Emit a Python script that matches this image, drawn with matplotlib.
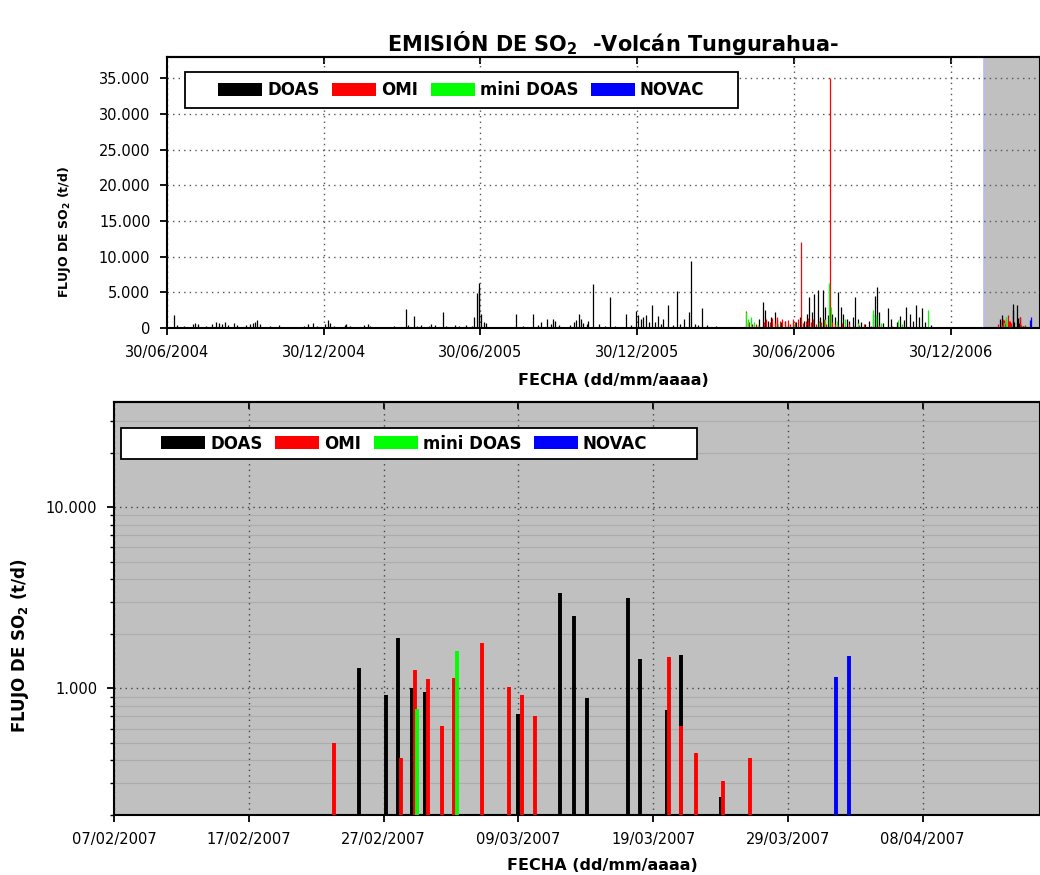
import matplotlib
matplotlib.use('Agg')
import matplotlib.pyplot as plt
import matplotlib.dates as mdates
from matplotlib.patches import Patch, Rectangle
from matplotlib.ticker import FixedLocator, FuncFormatter, LogLocator, NullFormatter
import numpy as np
from datetime import datetime

# ---------------- datos ----------------
series = ['DOAS', 'OMI', 'mini DOAS', 'NOVAC']
colores = ['#000000', '#ff0000', '#00ff00', '#0000ff']

inicio_hist = datetime(2004, 6, 30)   # origen de los dias del periodo 2004-2006
inicio_2007 = datetime(2007, 2, 7)    # origen de los dias de la campaña 2007

# DOAS 2004-2006 (dias desde 30/06/2004, flujo t/d)
doas_dias = [8, 12, 20, 30, 33, 36, 45, 52, 57, 60, 64, 68, 71, 78, 82, 92, 97, 100, 103, 105,
             108, 120, 130, 150, 160, 164, 170, 175, 184, 187, 190, 195, 207, 209, 213, 230, 234,
             237, 250, 265, 278, 281, 288, 291, 296, 305, 308, 312, 321, 325, 335, 340, 348, 355,
             358, 361, 363, 364, 366, 369, 372, 385, 395, 406, 415, 426, 432, 436, 443, 447, 450,
             452, 457, 470, 474, 477, 480, 482, 485, 489, 491, 496, 503, 510, 516, 522, 535, 541,
             546, 549, 552, 555, 558, 562, 565, 568, 572, 575, 578, 584, 590, 594, 598, 602, 608,
             610, 615, 619, 623, 629, 640, 650, 665, 677, 682, 690, 694, 697, 700, 704, 708, 711,
             715, 720, 724, 729, 733, 737, 742, 745, 748, 751, 754, 758, 761, 764, 767, 770, 775,
             778, 782, 785, 788, 792, 795, 799, 802, 805, 809, 813, 818, 822, 825, 827, 830, 834,
             840, 844, 850, 854, 858, 861, 865, 869, 873, 876, 879, 883, 890, 895]
doas_flujo = [1800, 400, 300, 600, 700, 500, 300, 500, 900, 700, 500, 850, 400, 700, 400, 400, 600,
              700, 800, 1100, 600, 300, 400, 200, 300, 500, 700, 300, 600, 1100, 700, 300, 400, 600,
              300, 400, 500, 300, 200, 300, 2700, 400, 1700, 300, 400, 300, 500, 400, 2300, 300,
              400, 300, 400, 300, 1500, 4900, 6300, 5500, 2000, 800, 700, 200, 200, 2000, 300, 2000,
              400, 900, 1200, 600, 1200, 1000, 400, 400, 800, 1100, 2000, 1200, 700, 600, 1000,
              6200, 500, 300, 4400, 300, 2000, 400, 2400, 1800, 1200, 1500, 1800, 900, 3200, 800,
              1700, 600, 1200, 3200, 400, 5200, 500, 1300, 2300, 9400, 500, 400, 2800, 400, 300,
              200, 200, 900, 500, 1200, 3700, 2500, 1000, 1500, 2300, 1200, 800, 1000, 600, 700,
              900, 1500, 1000, 2000, 4300, 2200, 4700, 5300, 1500, 5300, 3000, 1800, 2000, 1500,
              5100, 3000, 2000, 1300, 1000, 1500, 4400, 1200, 800, 600, 1000, 2000, 4500, 5800,
              2200, 700, 2800, 1200, 900, 1700, 1100, 2900, 2000, 1000, 3200, 1500, 2800, 800,
              400, 200]

# OMI 2006
omi_dias = [675, 678, 681, 686, 690, 695, 698, 702, 705, 708, 711, 714, 717, 720, 723, 726, 729,
            732, 735, 738, 741, 744, 747, 750, 753, 756, 759, 762, 765, 768, 772, 775, 778, 782,
            786, 790, 795, 800, 806, 812, 820, 830, 845, 860]
omi_flujo = [2400, 800, 400, 600, 300, 800, 1200, 900, 1400, 700, 1500, 1000, 1300, 800, 1100,
             600, 1200, 900, 1300, 12000, 700, 1000, 1400, 900, 1200, 600, 1000, 800, 1300, 500,
             35000, 900, 600, 400, 700, 300, 500, 300, 400, 600, 300, 400, 300, 200]

# mini DOAS 2006
mini_dias = [675, 677, 680, 684, 688, 712, 730, 748, 760, 766, 771, 774, 780, 790, 805, 822, 826,
             832, 852, 856, 886]
mini_flujo = [2200, 1200, 1500, 800, 400, 600, 500, 300, 800, 1200, 6300, 3000, 1000, 1200, 700,
              2500, 1800, 700, 1100, 600, 2500]

# campaña 2007 (dias desde 07/02/2007, flujo t/d)
doas07_dias = [18.2, 20.2, 21.1, 22.1, 23.1, 30.0, 33.1, 34.1, 35.1, 38.1, 39.0, 41.0, 42.1, 45.0]
doas07_flujo = [1290, 920, 1890, 1000, 960, 720, 3370, 2520, 880, 3160, 1460, 760, 1520, 250]
omi07_dias = [16.3, 21.3, 22.3, 23.3, 24.3, 25.2, 27.3, 29.3, 30.3, 31.2, 41.2, 42.1, 43.2, 45.2, 47.2]
omi07_flujo = [500, 410, 1260, 1120, 620, 1140, 1770, 1020, 920, 700, 1480, 620, 440, 310, 410]
mini07_dias = [22.5, 25.45]
mini07_flujo = [770, 1600]
novac07_dias = [53.6, 54.5]
novac07_flujo = [1160, 1500]

ticks_sup = ['2004-06-30', '2004-12-30', '2005-06-30', '2005-12-30', '2006-06-30', '2006-12-30']
ticks_inf = ['2007-02-07', '2007-02-17', '2007-02-27', '2007-03-09', '2007-03-19', '2007-03-29',
             '2007-04-08']

# ---------------- figura ----------------
fig = plt.figure(figsize=(10.4, 8.75), dpi=100)

t0 = mdates.date2num(inicio_hist)
t7 = mdates.date2num(inicio_2007)

miles = FuncFormatter(lambda v, p: f'{int(round(v)):,}'.replace(',', '.'))
fmt_fecha = mdates.DateFormatter('%d/%m/%Y')


def leyenda(ax, caja, ancla):
    x0, y0, x1, y1 = caja
    ax.add_patch(Rectangle((x0, y0), x1 - x0, y1 - y0, transform=ax.transAxes, facecolor='white',
                           edgecolor='black', lw=1.3, zorder=6, clip_on=False))
    handles = [Patch(facecolor=c, edgecolor='none', label=n) for n, c in zip(series, colores)]
    leg = ax.legend(handles=handles, ncol=4, loc='center left', bbox_to_anchor=ancla, frameon=False,
                    prop={'weight': 'bold', 'size': 12}, handlelength=2.65, handleheight=0.85,
                    handletextpad=0.3, columnspacing=0.75, borderpad=0, borderaxespad=0)
    leg.set_zorder(7)


def estilo(ax):
    for s in ax.spines.values():
        s.set_linewidth(1.5)
    ax.tick_params(axis='both', which='major', direction='out', length=5, width=1.3,
                   labelsize=10.5, pad=7)
    ax.xaxis.set_major_formatter(fmt_fecha)
    sec = ax.secondary_xaxis('top')
    sec.set_xticks(ax.get_xticks())
    sec.tick_params(direction='in', length=5, width=1.3, labeltop=False)
    sec.spines['top'].set_linewidth(1.5)
    return sec


# ---- panel superior: serie completa ----
ax1 = fig.add_axes([167 / 1040, 1 - 328 / 875, 873 / 1040, 271 / 875])
ax1.set_xlim(t0, mdates.date2num(datetime(2007, 4, 13)))
ax1.set_ylim(0, 38000)
ax1.axvspan(t7, ax1.get_xlim()[1], color='#c0c0c0', zorder=0.5, lw=0)
ax1.axvline(t7, color='#b4b8ff', lw=1.2, zorder=0.6)

ax1.vlines(t0 + np.array(doas_dias), 0, doas_flujo, colors=colores[0], lw=0.9)
ax1.vlines(t0 + np.array(omi_dias), 0, omi_flujo, colors=colores[1], lw=0.9)
ax1.vlines(t0 + np.array(mini_dias), 0, mini_flujo, colors=colores[2], lw=0.9)
ax1.vlines(t7 + np.array(doas07_dias), 0, doas07_flujo, colors=colores[0], lw=0.9)
ax1.vlines(t7 + np.array(omi07_dias), 0, omi07_flujo, colors=colores[1], lw=0.9)
ax1.vlines(t7 + np.array(mini07_dias), 0, mini07_flujo, colors=colores[2], lw=0.9)
ax1.vlines(t7 + np.array(novac07_dias), 0, novac07_flujo, colors=colores[3], lw=0.9)

ax1.xaxis.set_major_locator(FixedLocator(mdates.datestr2num(ticks_sup)))
ax1.yaxis.set_major_locator(FixedLocator(np.arange(0, 35001, 5000)))
ax1.yaxis.set_major_formatter(miles)
estilo(ax1)
der = ax1.secondary_yaxis('right')
der.set_yticks(np.arange(0, 35001, 5000))
der.tick_params(direction='in', length=5, width=1.3, labelright=False)
ax1.grid(True, which='major', linestyle=(0, (1, 3)), color='#555555', lw=1)

ax1.set_xlabel('FECHA (dd/mm/aaaa)', fontsize=11.5, fontweight='bold')
ax1.xaxis.set_label_coords(0.511, -0.165)
ax1.set_ylabel('FLUJO DE SO$_\\mathbf{2}$ (t/d)', fontsize=9, fontweight='bold')
ax1.yaxis.set_label_coords(-0.108, 0.354)
leyenda(ax1, (0.0206, 0.812, 0.654, 0.9446), (0.0584, 0.878))

# ---- panel inferior: campaña 2007 en escala logaritmica ----
ax2 = fig.add_axes([114 / 1040, 1 - 815 / 875, 926 / 1040, 413 / 875])
ax2.set_facecolor('#c0c0c0')
ax2.set_yscale('log')
ax2.set_xlim(t7, t7 + 68.7)
ax2.set_ylim(200, 38000)

ax2.vlines(t7 + np.array(doas07_dias), 100, doas07_flujo, colors=colores[0], lw=2.8, zorder=3)
ax2.vlines(t7 + np.array(omi07_dias), 100, omi07_flujo, colors=colores[1], lw=2.8, zorder=3)
ax2.vlines(t7 + np.array(mini07_dias), 100, mini07_flujo, colors=colores[2], lw=2.8, zorder=3)
ax2.vlines(t7 + np.array(novac07_dias), 100, novac07_flujo, colors=colores[3], lw=2.8, zorder=3)

ax2.xaxis.set_major_locator(FixedLocator(mdates.datestr2num(ticks_inf)))
ax2.yaxis.set_major_locator(FixedLocator([1000, 10000]))
ax2.yaxis.set_major_formatter(miles)
ax2.yaxis.set_minor_locator(LogLocator(base=10, subs=np.arange(2, 10)))
ax2.yaxis.set_minor_formatter(NullFormatter())
estilo(ax2)
ax2.tick_params(axis='y', which='minor', direction='out', length=3, width=1)
ax2.grid(True, which='minor', axis='y', linestyle='-', color='#acacac', lw=0.8)
ax2.grid(True, which='major', linestyle=(0, (1, 3)), color='#444444', lw=1)

ax2.set_xlabel('FECHA (dd/mm/aaaa)', fontsize=11.5, fontweight='bold')
ax2.xaxis.set_label_coords(0.527, -0.104)
ax2.set_ylabel('FLUJO DE SO$_\\mathbf{2}$ (t/d)', fontsize=12, fontweight='bold')
ax2.yaxis.set_label_coords(-0.09, 0.41)
leyenda(ax2, (0.0076, 0.862, 0.6296, 0.937), (0.0508, 0.8995))

fig.text(613 / 1040, 1 - 43 / 875, 'EMISIÓN DE SO$_\\mathbf{2}$  -Volcán Tungurahua-',
         ha='center', va='center', fontsize=15, fontweight='bold')

fig.savefig('out.png', dpi=100)
